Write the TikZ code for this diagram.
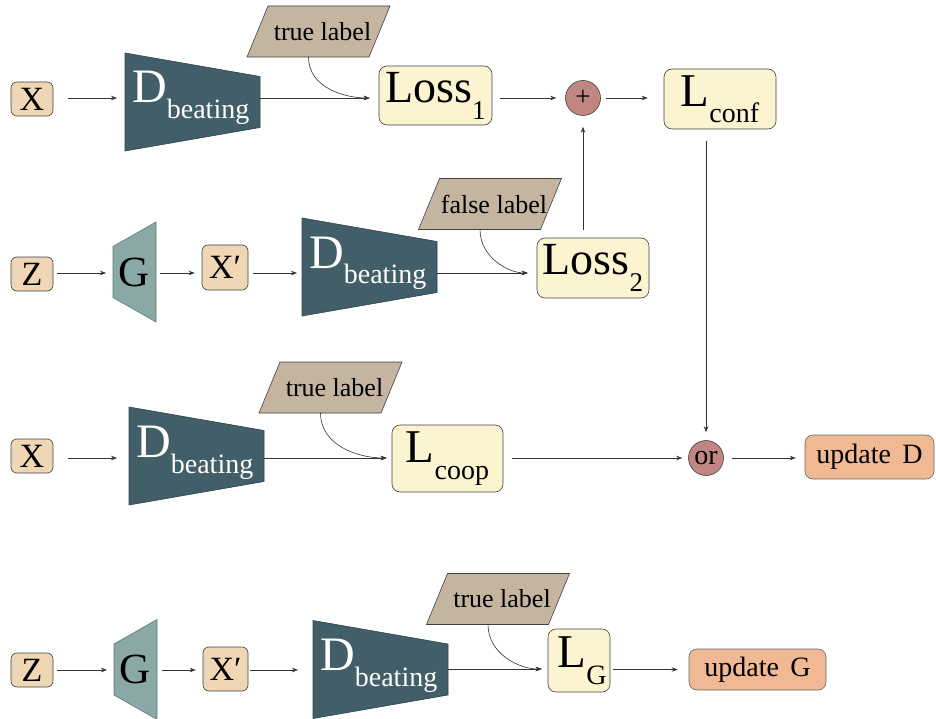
\documentclass[tikz,border=0pt]{standalone}
\usepackage{fontspec}
\setmainfont{Liberation Serif}
\usetikzlibrary{arrows.meta}

\definecolor{inputfill}{HTML}{EFD6B4}
\definecolor{dfill}{HTML}{415E69}
\definecolor{dline}{HTML}{2E434B}
\definecolor{gfill}{HTML}{89A8A6}
\definecolor{gline}{HTML}{5E7876}
\definecolor{tagfill}{HTML}{C4B5A0}
\definecolor{lossfill}{HTML}{FCF4D1}
\definecolor{opfill}{HTML}{C08682}
\definecolor{updfill}{HTML}{F0B994}

\newcommand\fs[1]{\fontsize{#1}{#1}\selectfont}

\tikzset{
  flow/.style={draw=black!80, line width=0.6pt, -{Stealth[length=6pt,width=4.5pt]}},
  inputbox/.style={draw=black!75, line width=0.6pt, fill=inputfill, rounded corners=6pt,
    inner sep=0pt, font=\fs{34}},
  lossbox/.style={draw=black!75, line width=0.6pt, fill=lossfill, rounded corners=8pt,
    inner sep=0pt},
  opcircle/.style={circle, draw=black!75, line width=0.6pt, fill=opfill,
    minimum size=35pt, inner sep=0pt},
  updbox/.style={draw=black!60, line width=0.6pt, fill=updfill, rounded corners=8pt,
    inner sep=0pt, font=\fs{28}},
  dshape/.style={fill=dfill, draw=dline, line width=0.6pt},
  gshape/.style={fill=gfill, draw=gline, line width=0.6pt},
  tagshape/.style={fill=tagfill, draw=black!75, line width=0.6pt},
}

% discriminator block: name, left x, centre y
\newcommand\Dnet[3]{%
  \begin{scope}[shift={(#2,#3)}]
    \filldraw[dshape] (0,-49) -- (135,-25.5) -- (135,25.5) -- (0,49) -- cycle;
    \coordinate (#1-w) at (0,0);
    \coordinate (#1-e) at (135,0);
    \node[anchor=base west, text=white, inner sep=0pt] (#1) at (7,1)
      {\fs{48}D\raisebox{-16pt}{\fs{28}beating}};
  \end{scope}}

% generator block: name, left x, centre y
\newcommand\Gnet[3]{%
  \begin{scope}[shift={(#2,#3)}]
    \filldraw[gshape] (0,-25.5) -- (43,-50) -- (43,50) -- (0,25.5) -- cycle;
    \coordinate (#1-w) at (0,0);
    \coordinate (#1-e) at (43,0);
    \node[inner sep=0pt, font=\fs{43}] (#1) at (21.5,0) {G};
  \end{scope}}

% label tag (parallelogram): name, centre x, centre y, text
\newcommand\Tag[4]{%
  \begin{scope}[shift={(#2,#3)}]
    \filldraw[tagshape] (-50.5,-25.5) -- (71.5,-25.5) -- (50.5,25.5) -- (-71.5,25.5) -- cycle;
    \node[inner sep=0pt, font=\fs{26}] (#1) at (4,0) {#4};
    \coordinate (#1-b) at (-10,25.5);
  \end{scope}}

\begin{document}
\begin{tikzpicture}[x=1pt, y=-1pt]
\useasboundingbox (0,0) rectangle (936,719);

% ---------- row 1: real samples, confident loss ----------
\node[inputbox, minimum width=42pt, minimum height=34pt] (x1) at (32,99) {X};
\Dnet{d1}{125}{102}
\Tag{t1}{318.5}{31.5}{true label}
\node[lossbox, minimum width=113pt, minimum height=59pt] (loss1) at (435.5,95.5)
  {\fs{46}Loss\raisebox{-17pt}{\fs{27}1}};
\node[opcircle, font=\fs{27}] (plus) at (583,98) {+};
\node[lossbox, minimum width=112pt, minimum height=60pt] (lconf) at (720,99)
  {\fs{47}L\raisebox{-16pt}{\fs{28}conf}};

\draw[flow, shorten <=15pt, shorten >=8pt] (x1.east |- 0,98) -- (d1-w |- 0,98);
\draw[flow, shorten >=9pt] (d1-e |- 0,98) -- (loss1.west |- 0,98);
\draw[flow, shorten >=9pt] (t1-b) to[out=-90, in=180] (loss1.west |- 0,98);
\draw[flow, shorten <=8pt, shorten >=9pt] (loss1.east |- plus) -- (plus.west);
\draw[flow, shorten <=5pt, shorten >=16pt] (plus.east) -- (plus.east -| lconf.west);

% ---------- row 2: generated samples, false label ----------
\node[inputbox, minimum width=42pt, minimum height=34pt] (z2) at (32,274) {Z};
\Gnet{g2}{113}{272}
\node[inputbox, minimum width=46pt, minimum height=45pt] (xp2) at (225,267.5) {X′};
\Dnet{d2}{302}{267}
\Tag{t2}{490}{204}{false label}
\node[lossbox, minimum width=112pt, minimum height=60pt] (loss2) at (593,268)
  {\fs{46}Loss\raisebox{-17pt}{\fs{27}2}};

\draw[flow, shorten <=4pt, shorten >=7pt] (z2.east |- 0,273) -- (g2-w |- 0,273);
\draw[flow, shorten <=4pt, shorten >=7pt] (g2-e |- 0,273) -- (xp2.west |- 0,273);
\draw[flow, shorten <=5pt, shorten >=5pt] (xp2.east |- 0,273) -- (d2-w |- 0,273);
\draw[flow, shorten >=9pt] (d2-e |- 0,273) -- (loss2.west |- 0,273);
\draw[flow, shorten >=9pt] (t2-b) to[out=-90, in=180] (loss2.west |- 0,273);
\draw[flow, shorten <=8pt, shorten >=11pt] (loss2.north -| plus) -- (plus.south);

% ---------- row 3: real samples, cooperative loss ----------
\node[inputbox, minimum width=42pt, minimum height=34pt] (x3) at (32,456) {X};
\Dnet{d3}{129}{456}
\Tag{t3}{330.5}{387.5}{true label}
\node[lossbox, minimum width=111pt, minimum height=67pt] (lcoop) at (447.5,458.5)
  {\fs{47}L\raisebox{-17pt}{\fs{28}coop}};
\node[opcircle, font=\fs{28}] (or) at (706,458) {or};
\node[updbox, minimum width=129pt, minimum height=44pt] (updD) at (869.5,457)
  {update\hspace{0.4em}D};

\draw[flow, shorten <=15pt, shorten >=12pt] (x3.east |- 0,458) -- (d3-w |- 0,458);
\draw[flow, shorten >=5pt] (d3-e |- 0,458) -- (lcoop.west |- 0,458);
\draw[flow, shorten >=5pt] (t3-b) to[out=-90, in=180] (lcoop.west |- 0,458);
\draw[flow, shorten <=9pt, shorten >=6pt] (lcoop.east |- or) -- (or.west);
\draw[flow, shorten <=8pt, shorten >=9pt] (or.east) -- (or.east -| updD.west);
\draw[flow, shorten <=12pt, shorten >=8pt] (lconf.south -| or) -- (or.north);

% ---------- row 4: generator update ----------
\node[inputbox, minimum width=42pt, minimum height=34pt] (z4) at (32,670) {Z};
\Gnet{g4}{114}{669.5}
\node[inputbox, minimum width=45pt, minimum height=44pt] (xp4) at (225.5,669) {X′};
\Dnet{d4}{313}{669.5}
\Tag{t4}{498}{599}{true label}
\node[lossbox, minimum width=62pt, minimum height=63pt] (lg) at (579,660.5)
  {\hspace{6pt}\fs{47}L\raisebox{-17pt}{\fs{28}G}};
\node[updbox, minimum width=137pt, minimum height=41pt] (updG) at (757.5,669.5)
  {update\hspace{0.4em}G};

\draw[flow, shorten <=4pt, shorten >=7pt] (z4.east |- 0,670) -- (g4-w |- 0,670);
\draw[flow, shorten <=5pt, shorten >=7pt] (g4-e |- 0,670) -- (xp4.west |- 0,670);
\draw[flow, shorten <=2pt, shorten >=15pt] (xp4.east |- 0,670) -- (d4-w |- 0,670);
\draw[flow, shorten >=6pt] (d4-e |- 0,669) -- (lg.west |- 0,669);
\draw[flow, shorten >=6pt] (t4-b) to[out=-90, in=180] (lg.west |- 0,669);
\draw[flow, shorten <=3pt, shorten >=11pt] (lg.east |- updG) -- (updG.west);
\end{tikzpicture}
\end{document}
